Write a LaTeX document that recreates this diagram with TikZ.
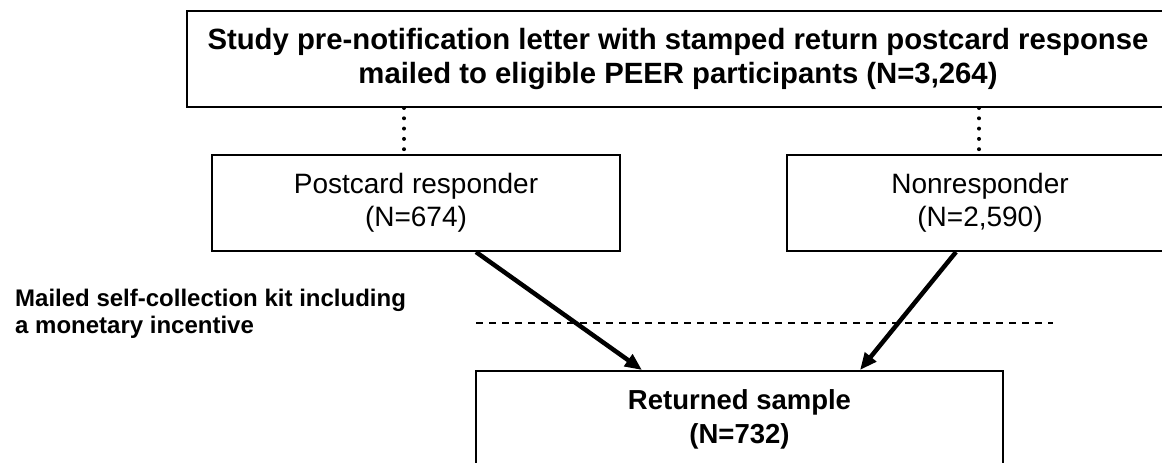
\documentclass[tikz,border=0pt]{standalone}
\usepackage{fontspec}
\setmainfont{Liberation Sans}
\usetikzlibrary{arrows.meta}
\begin{document}
\begin{tikzpicture}[x=1pt,y=-1pt,
  box/.style={draw, line width=2pt, rectangle, inner sep=0pt, align=center, minimum height=96pt},
  topfont/.style={font=\fontsize{29.3}{33.5}\selectfont\bfseries},
  retfont/.style={font=\fontsize{27.5}{34}\selectfont\bfseries},
  regfont/.style={font=\fontsize{28}{33}\selectfont},
  labfont/.style={font=\fontsize{24}{26.5}\selectfont\bfseries},
  dotline/.style={line width=4pt, line cap=round, dash pattern=on 0pt off 10.3pt},
  dashline/.style={line width=1.3pt, dash pattern=on 7pt off 6pt},
  arr/.style={line width=4.5pt, -{Triangle[length=17pt,width=14pt]}}]
\useasboundingbox (0,0) rectangle (1162,463);
\clip (0,0) rectangle (1162,463);
\fill[white] (0,0) rectangle (1162,463);

\node[box, topfont, minimum width=982pt] (top) at (678,59)
  {Study pre-notification letter with stamped return postcard response\\mailed to eligible PEER participants (N=3,264)};
\node[box, regfont, minimum width=408pt] (post) at (416,203)
  {Postcard responder\\(N=674)};
\node[box, regfont, minimum width=386pt] (non) at (980,203)
  {Nonresponder\\(N=2,590)};
\node[box, retfont, minimum width=527pt] (ret) at (739.5,419)
  {Returned sample\\(N=732)};

\node[labfont, align=left, anchor=west, inner sep=0pt] (lab) at (15,314)
  {Mailed self-collection kit including\\a monetary incentive};

\coordinate (c1) at (404,0);
\coordinate (c2) at (979,0);
\draw[dotline] (top.south -| c1) -- (post.north -| c1);
\draw[dotline] (top.south -| c2) -- (non.north -| c2);

\coordinate (dl) at (476,323);
\coordinate (dr) at (1053,323);
\draw[dashline] (dl) -- (dr);

\coordinate (a1s) at (476,0);
\coordinate (a1e) at (642,0);
\coordinate (a2s) at (956,0);
\coordinate (a2e) at (860,0);
\draw[arr] (post.south -| a1s) -- (ret.north -| a1e);
\draw[arr] (non.south -| a2s) -- (ret.north -| a2e);
\end{tikzpicture}
\end{document}
